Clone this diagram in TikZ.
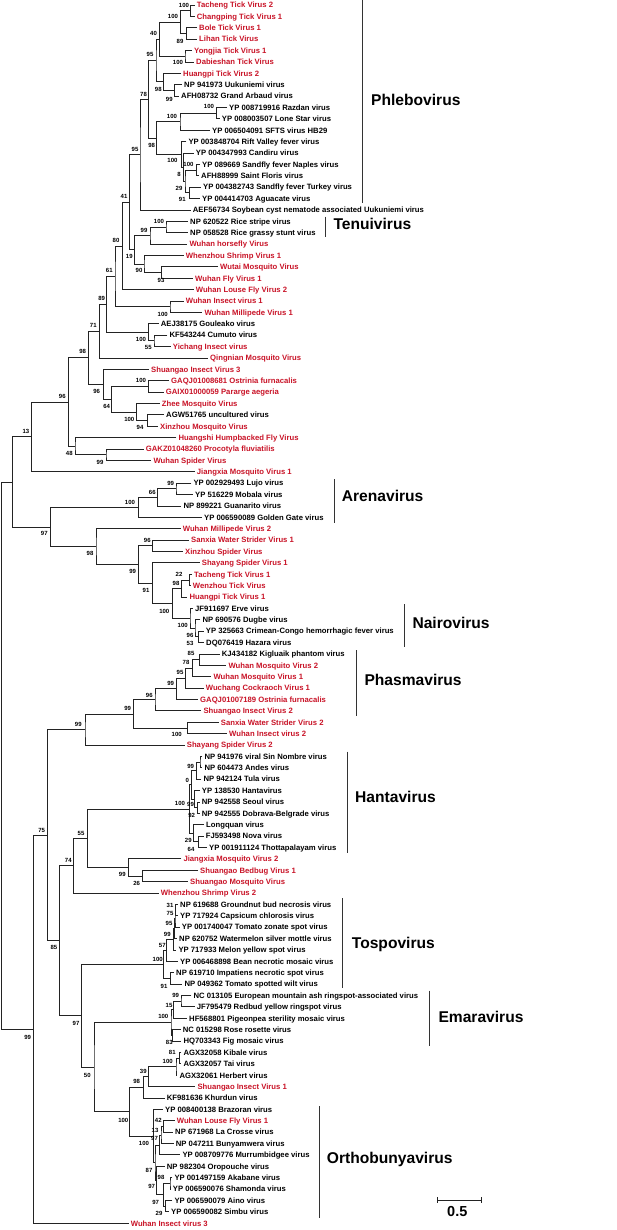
\documentclass[tikz,border=0pt]{standalone}
\usepackage{fontspec}
\setmainfont{Liberation Sans}
\usetikzlibrary{calc}
\definecolor{vred}{RGB}{200,18,38}
\definecolor{brc}{RGB}{35,35,35}
\newcounter{bsc}
\newcommand\LF[4]{%
  \coordinate (l#1) at ({#2-2},{5+(#1-1)*11.385});
  \node[lf,#3] (t#1) at ({#2},{5+(#1-1)*11.385+2.8}) {#4};}
\newcommand\IN[4]{%
  \path let \p1=(#3), \p2=(#4) in coordinate (#1) at ({#2pt},{(\y1+\y2)/2});
  \draw[br] (#3) -| (#1) |- (#4);}
\newcommand\BS[3]{\stepcounter{bsc}\node[bs] (bs\thebsc) at (#1,#2) {#3};}
\newcommand\CL[7]{%
  \coordinate (#1top) at (#2,#3);
  \coordinate (#1bot) at (#2,#4);
  \draw[cbar] (#1top) -- (#1bot);
  \node[cl] (#1) at (#5,{#6+5.6}) {#7};}
\begin{document}
\begin{tikzpicture}[x=1pt,y=-1pt,
  lf/.style={anchor=base west,inner sep=0pt,font=\fontsize{7.7}{9}\selectfont\bfseries},
  rd/.style={text=vred},
  bk/.style={text=black},
  bs/.style={inner sep=0pt,font=\fontsize{6}{7}\selectfont\bfseries},
  br/.style={line width=0.8pt,draw=brc},
  cbar/.style={line width=0.8pt,draw=black!80},
  cl/.style={anchor=base west,inner sep=0pt,font=\fontsize{15.6}{18}\selectfont\bfseries}]
\useasboundingbox (0,0) rectangle (617,1230);
% leaves
\LF{1}{196.7}{rd}{Tacheng Tick Virus 2}
\LF{2}{196.7}{rd}{Changping Tick Virus 1}
\LF{3}{199}{rd}{Bole Tick Virus 1}
\LF{4}{199}{rd}{Lihan Tick Virus}
\LF{5}{194}{rd}{Yongjia Tick Virus 1}
\LF{6}{196}{rd}{Dabieshan Tick Virus}
\LF{7}{183}{rd}{Huangpi Tick Virus 2}
\LF{8}{184}{bk}{NP 941973 Uukuniemi virus}
\LF{9}{181}{bk}{AFH08732 Grand Arbaud virus}
\LF{10}{229}{bk}{YP 008719916 Razdan virus}
\LF{11}{221.7}{bk}{YP 008003507 Lone Star virus}
\LF{12}{212}{bk}{YP 006504091 SFTS virus HB29}
\LF{13}{188.3}{bk}{YP 003848704 Rift Valley fever virus}
\LF{14}{195.7}{bk}{YP 004347993 Candiru virus}
\LF{15}{202}{bk}{YP 089669 Sandfly fever Naples virus}
\LF{16}{201}{bk}{AFH88999 Saint Floris virus}
\LF{17}{203}{bk}{YP 004382743 Sandfly fever Turkey virus}
\LF{18}{202}{bk}{YP 004414703 Aguacate virus}
\LF{19}{192.7}{bk}{AEF56734 Soybean cyst nematode associated Uukuniemi virus}
\LF{20}{190}{bk}{NP 620522 Rice stripe virus}
\LF{21}{190}{bk}{NP 058528 Rice grassy stunt virus}
\LF{22}{189.3}{rd}{Wuhan horsefly Virus}
\LF{23}{185.7}{rd}{Whenzhou Shrimp Virus 1}
\LF{24}{220}{rd}{Wutai Mosquito Virus}
\LF{25}{195}{rd}{Wuhan Fly Virus 1}
\LF{26}{195.7}{rd}{Wuhan Louse Fly Virus 2}
\LF{27}{185.7}{rd}{Wuhan Insect virus 1}
\LF{28}{204.3}{rd}{Wuhan Millipede Virus 1}
\LF{29}{160.7}{bk}{AEJ38175 Gouleako virus}
\LF{30}{169.3}{bk}{KF543244 Cumuto virus}
\LF{31}{172.7}{rd}{Yichang Insect virus}
\LF{32}{210}{rd}{Qingnian Mosquito Virus}
\LF{33}{151}{rd}{Shuangao Insect Virus 3}
\LF{34}{171}{rd}{GAQJ01008681 Ostrinia furnacalis}
\LF{35}{165.7}{rd}{GAIX01000059 Pararge aegeria}
\LF{36}{161.7}{rd}{Zhee Mosquito Virus}
\LF{37}{166}{bk}{AGW51765 uncultured virus}
\LF{38}{160}{rd}{Xinzhou Mosquito Virus}
\LF{39}{178.3}{rd}{Huangshi Humpbacked Fly Virus}
\LF{40}{145.7}{rd}{GAKZ01048260 Procotyla fluviatilis}
\LF{41}{153.3}{rd}{Wuhan Spider Virus}
\LF{42}{196.7}{rd}{Jiangxia Mosquito Virus 1}
\LF{43}{193.3}{bk}{YP 002929493 Lujo virus}
\LF{44}{195}{bk}{YP 516229 Mobala virus}
\LF{45}{183.3}{bk}{NP 899221 Guanarito virus}
\LF{46}{204}{bk}{YP 006590089 Golden Gate virus}
\LF{47}{182.7}{rd}{Wuhan Millipede Virus 2}
\LF{48}{191}{rd}{Sanxia Water Strider Virus 1}
\LF{49}{185}{rd}{Xinzhou Spider Virus}
\LF{50}{201.7}{rd}{Shayang Spider Virus 1}
\LF{51}{194}{rd}{Tacheng Tick Virus 1}
\LF{52}{192.7}{rd}{Wenzhou Tick Virus}
\LF{53}{189.3}{rd}{Huangpi Tick Virus 1}
\LF{54}{195}{bk}{JF911697 Erve virus}
\LF{55}{202.3}{bk}{NP 690576 Dugbe virus}
\LF{56}{205.7}{bk}{YP 325663 Crimean-Congo hemorrhagic fever virus}
\LF{57}{206}{bk}{DQ076419 Hazara virus}
\LF{58}{221.7}{bk}{KJ434182 Kigluaik phantom virus}
\LF{59}{228.3}{rd}{Wuhan Mosquito Virus 2}
\LF{60}{213.3}{rd}{Wuhan Mosquito Virus 1}
\LF{61}{205.7}{rd}{Wuchang Cockraoch Virus 1}
\LF{62}{200}{rd}{GAQJ01007189 Ostrinia furnacalis}
\LF{63}{203.3}{rd}{Shuangao Insect Virus 2}
\LF{64}{220.7}{rd}{Sanxia Water Strider Virus 2}
\LF{65}{229}{rd}{Wuhan Insect virus 2}
\LF{66}{186.7}{rd}{Shayang Spider Virus 2}
\LF{67}{204.3}{bk}{NP 941976 viral Sin Nombre virus}
\LF{68}{204.3}{bk}{NP 604473 Andes virus}
\LF{69}{203.3}{bk}{NP 942124 Tula virus}
\LF{70}{201.7}{bk}{YP 138530 Hantavirus}
\LF{71}{201.7}{bk}{NP 942558 Seoul virus}
\LF{72}{201.7}{bk}{NP 942555 Dobrava-Belgrade virus}
\LF{73}{206}{bk}{Longquan virus}
\LF{74}{205.7}{bk}{FJ593498 Nova virus}
\LF{75}{209}{bk}{YP 001911124 Thottapalayam virus}
\LF{76}{183.3}{rd}{Jiangxia Mosquito Virus 2}
\LF{77}{200}{rd}{Shuangao Bedbug Virus 1}
\LF{78}{190}{rd}{Shuangao Mosquito Virus}
\LF{79}{160.7}{rd}{Whenzhou Shrimp Virus 2}
\LF{80}{180}{bk}{NP 619688 Groundnut bud necrosis virus}
\LF{81}{180}{bk}{YP 717924 Capsicum chlorosis virus}
\LF{82}{181.7}{bk}{YP 001740047 Tomato zonate spot virus}
\LF{83}{179}{bk}{NP 620752 Watermelon silver mottle virus}
\LF{84}{178.3}{bk}{YP 717933 Melon yellow spot virus}
\LF{85}{180}{bk}{YP 006468898 Bean necrotic mosaic virus}
\LF{86}{176}{bk}{NP 619710 Impatiens necrotic spot virus}
\LF{87}{184.3}{bk}{NP 049362 Tomato spotted wilt virus}
\LF{88}{193.3}{bk}{NC 013105 European mountain ash ringspot-associated virus}
\LF{89}{196.7}{bk}{JF795479 Redbud yellow ringspot virus}
\LF{90}{189}{bk}{HF568801 Pigeonpea sterility mosaic virus}
\LF{91}{182.7}{bk}{NC 015298 Rose rosette virus}
\LF{92}{183.3}{bk}{HQ703343 Fig mosaic virus}
\LF{93}{183.3}{bk}{AGX32058 Kibale virus}
\LF{94}{183.3}{bk}{AGX32057 Tai virus}
\LF{95}{179.3}{bk}{AGX32061 Herbert virus}
\LF{96}{197.3}{rd}{Shuangao Insect Virus 1}
\LF{97}{166.7}{bk}{KF981636 Khurdun virus}
\LF{98}{165}{bk}{YP 008400138 Brazoran virus}
\LF{99}{176.7}{rd}{Wuhan Louse Fly Virus 1}
\LF{100}{175}{bk}{NP 671968 La Crosse virus}
\LF{101}{175.7}{bk}{NP 047211 Bunyamwera virus}
\LF{102}{182.3}{bk}{YP 008709776 Murrumbidgee virus}
\LF{103}{166.7}{bk}{NP 982304 Oropouche virus}
\LF{104}{174.3}{bk}{YP 001497159 Akabane virus}
\LF{105}{172.7}{bk}{YP 006590076 Shamonda virus}
\LF{106}{174.3}{bk}{YP 006590079 Aino virus}
\LF{107}{171}{bk}{YP 006590082 Simbu virus}
\LF{108}{130.7}{rd}{Wuhan Insect virus 3}
% internal nodes
\IN{A}{190.7}{l1}{l2}
\IN{B}{186.7}{l3}{l4}
\IN{C}{180.7}{A}{B}
\IN{D}{185}{l5}{l6}
\IN{E}{159.3}{C}{D}
\IN{F}{174.3}{l8}{l9}
\IN{G}{163.3}{l7}{F}
\IN{H}{156}{E}{G}
\IN{J}{216.7}{l10}{l11}
\IN{K}{180}{J}{l12}
\IN{L}{196.7}{l15}{l16}
\IN{M}{189.3}{l17}{l18}
\IN{N}{185}{L}{M}
\IN{O}{183.3}{l14}{N}
\IN{P}{181.7}{l13}{O}
\IN{Q}{156.7}{K}{P}
\IN{R}{148.3}{H}{Q}
\IN{T}{140}{R}{l19}
\IN{U}{166}{l20}{l21}
\IN{V}{150}{U}{l22}
\IN{W}{161.7}{l24}{l25}
\IN{X}{144}{l23}{W}
\IN{Y}{134.3}{V}{X}
\IN{Z}{129.3}{T}{Y}
\IN{AA}{122.7}{Z}{l26}
\IN{I27}{170}{l27}{l28}
\IN{AB}{115}{AA}{I27}
\IN{AC}{154}{l30}{l31}
\IN{AD}{148.3}{l29}{AC}
\IN{AE}{106.7}{AB}{AD}
\IN{AF}{99.3}{AE}{l32}
\IN{AG}{148.3}{l34}{l35}
\IN{AH}{147.7}{l37}{l38}
\IN{AI}{136.7}{l36}{AH}
\IN{AJ}{111.7}{AG}{AI}
\IN{AK}{103.3}{l33}{AJ}
\IN{AL}{88.3}{AF}{AK}
\IN{AM}{106}{l40}{l41}
\IN{AN}{75}{l39}{AM}
\IN{AO}{68.3}{AL}{AN}
\IN{AP}{31.7}{AO}{l42}
\IN{AQ}{176}{l43}{l44}
\IN{AR}{157.7}{AQ}{l45}
\IN{AS}{138.3}{AR}{l46}
\IN{AT}{152.7}{l48}{l49}
\IN{AU}{189.3}{l51}{l52}
\IN{AV}{181.7}{AU}{l53}
\IN{AW}{198.3}{l56}{l57}
\IN{AX}{195}{l55}{AW}
\IN{AY}{190}{l54}{AX}
\IN{AZ}{172.7}{AV}{AY}
\IN{BA}{152.3}{l50}{AZ}
\IN{BB}{138.3}{AT}{BA}
\IN{BC}{96}{l47}{BB}
\IN{BD}{50.7}{AS}{BC}
\IN{BE}{12.7}{AP}{BD}
\IN{PA}{199.3}{l58}{l59}
\IN{PB}{192.7}{PA}{l60}
\IN{PC}{185.7}{PB}{l61}
\IN{PD}{176.7}{PC}{l62}
\IN{PE}{155}{PD}{l63}
\IN{PF}{187.3}{l64}{l65}
\IN{PG}{133.3}{PE}{PF}
\IN{BH}{85}{PG}{l66}
\IN{HAa}{200}{l67}{l68}
\IN{HAb}{196.7}{HAa}{l69}
\IN{HAc}{197.7}{l71}{l72}
\IN{HAd}{194.3}{l70}{HAc}
\IN{HA}{191.7}{HAb}{HAd}
\IN{HBa}{198.3}{l74}{l75}
\IN{HB}{193.3}{l73}{HBa}
\IN{HR}{189.3}{HA}{HB}
\IN{SB}{142.7}{l77}{l78}
\IN{SA}{128.3}{l76}{SB}
\IN{BJ}{87.3}{HR}{SA}
\IN{BK}{73.3}{BJ}{l79}
\IN{TA}{175.7}{l80}{l81}
\IN{TB}{175}{TA}{l82}
\IN{TC}{174.3}{TB}{l83}
\IN{TD}{173.3}{TC}{l84}
\IN{TE}{166.7}{TD}{l85}
\IN{TF}{170.7}{l86}{l87}
\IN{BN}{163.3}{TE}{TF}
\IN{EA}{181}{l88}{l89}
\IN{EB}{173.3}{EA}{l90}
\IN{EC}{172.7}{l91}{l92}
\IN{BO}{171}{EB}{EC}
\IN{KA}{179.3}{l93}{l94}
\IN{KB}{176}{KA}{l95}
\IN{KC}{148.3}{KB}{l96}
\IN{KD}{143.3}{KC}{l97}
\IN{OA}{163.3}{l99}{l100}
\IN{OB}{161}{OA}{l101}
\IN{OC}{159.3}{OB}{l102}
\IN{OD}{170}{l104}{l105}
\IN{OE}{165.7}{l106}{l107}
\IN{OF}{163.3}{OD}{OE}
\IN{OG}{156.7}{l103}{OF}
\IN{BR}{155}{OC}{OG}
\IN{BQ}{153.3}{l98}{BR}
\IN{BP}{129.3}{KD}{BQ}
\IN{BM}{94}{BO}{BP}
\IN{BL}{81.7}{BN}{BM}
\IN{BI}{59.3}{BK}{BL}
\IN{BG}{47.7}{BH}{BI}
\IN{BF}{33.3}{BG}{l108}
\IN{ROOT}{1.5}{BE}{BF}
% bootstrap values
\BS{184}{5}{100}
\BS{173}{16}{100}
\BS{180}{41}{89}
\BS{153.5}{33}{40}
\BS{178}{62.3}{100}
\BS{150}{54.3}{95}
\BS{158.3}{89.3}{98}
\BS{169.3}{99}{99}
\BS{143.5}{94.3}{78}
\BS{209}{106.7}{100}
\BS{172}{116}{100}
\BS{151.7}{145}{98}
\BS{135}{149.3}{95}
\BS{172.5}{160.7}{100}
\BS{188.5}{164}{100}
\BS{179}{174}{8}
\BS{179}{188.3}{29}
\BS{182.3}{199}{91}
\BS{124}{196.7}{41}
\BS{159}{221.7}{100}
\BS{144}{230}{99}
\BS{116}{240.7}{80}
\BS{129.3}{256.7}{19}
\BS{139}{270.7}{90}
\BS{161}{280}{93}
\BS{109.3}{270.7}{61}
\BS{101.7}{298.3}{89}
\BS{162.7}{314}{100}
\BS{93.3}{325}{71}
\BS{82.7}{351.7}{98}
\BS{141}{339.3}{100}
\BS{148.3}{347.3}{55}
\BS{141}{380}{100}
\BS{96.7}{391}{96}
\BS{62.3}{396.7}{96}
\BS{106.7}{406.7}{64}
\BS{129.3}{419}{100}
\BS{140}{427.7}{94}
\BS{26}{431.7}{13}
\BS{69.3}{453.3}{48}
\BS{100}{462.3}{99}
\BS{170.7}{483.3}{99}
\BS{152.3}{492.3}{66}
\BS{130}{502.7}{100}
\BS{44.3}{533.3}{97}
\BS{147.3}{540.7}{96}
\BS{90}{553.3}{98}
\BS{132.7}{571.7}{99}
\BS{179}{574}{22}
\BS{176}{583.3}{98}
\BS{146}{590}{91}
\BS{164.3}{611}{100}
\BS{182.7}{625}{100}
\BS{190}{635}{96}
\BS{190}{643.3}{53}
\BS{191}{653.3}{85}
\BS{186}{662.7}{78}
\BS{180}{672.7}{95}
\BS{170.7}{683.3}{99}
\BS{149.3}{695}{96}
\BS{127.7}{708.3}{99}
\BS{78.3}{724}{99}
\BS{176.7}{734.3}{100}
\BS{190.7}{766}{99}
\BS{187.3}{780}{0}
\BS{180}{803.3}{100}
\BS{190.5}{804}{99}
\BS{191.7}{815}{92}
\BS{41.7}{830}{75}
\BS{81}{833.3}{55}
\BS{188.3}{840.7}{29}
\BS{191}{849.3}{64}
\BS{68.3}{860.7}{74}
\BS{122.3}{874.3}{99}
\BS{136.7}{883.3}{26}
\BS{170}{905}{31}
\BS{170}{913.3}{75}
\BS{169}{923.3}{95}
\BS{167.3}{934.3}{99}
\BS{54}{947.7}{85}
\BS{162.3}{945}{57}
\BS{157.7}{959.3}{100}
\BS{164}{986}{91}
\BS{175.7}{995}{99}
\BS{169}{1005}{15}
\BS{76}{1023.3}{97}
\BS{163.3}{1016.7}{100}
\BS{27.7}{1037.3}{99}
\BS{169.3}{1042.3}{83}
\BS{172.3}{1052.7}{81}
\BS{167.7}{1061.7}{100}
\BS{143.3}{1071}{39}
\BS{87.3}{1075}{50}
\BS{136.7}{1081.7}{98}
\BS{158.3}{1120.7}{42}
\BS{123.3}{1120}{100}
\BS{155}{1130}{13}
\BS{154.5}{1138.5}{97}
\BS{144}{1143.3}{100}
\BS{149}{1170}{87}
\BS{161}{1177.7}{98}
\BS{151.7}{1186.7}{97}
\BS{155.7}{1202.3}{97}
\BS{159}{1213.3}{29}
% clade bars
\CL{phlebo}{362.7}{0}{203}{371}{100}{Phlebovirus}
\CL{tenui}{325}{216.7}{237.3}{333.3}{224}{Tenuivirus}
\CL{arena}{334}{479}{522.7}{341.7}{496}{Arenavirus}
\CL{nairo}{404.3}{604}{647.3}{412.3}{622.7}{Nairovirus}
\CL{phasma}{356}{650}{716}{364.3}{680}{Phasmavirus}
\CL{hanta}{347.7}{751.7}{852.7}{355}{797}{Hantavirus}
\CL{tospo}{342.7}{898}{988}{351.7}{942.7}{Tospovirus}
\CL{emara}{429.3}{990.7}{1046}{438.3}{1016.7}{Emaravirus}
\CL{ortho}{319.3}{1106}{1217.7}{326.7}{1158.3}{Orthobunyavirus}
% scale bar
\coordinate (sb1) at (437.7,1200);
\coordinate (sb2) at (481,1200);
\draw[br] (sb1) -- (sb2);
\draw[br] ([yshift=3pt]sb1) -- ([yshift=-3pt]sb1);
\draw[br] ([yshift=3pt]sb2) -- ([yshift=-3pt]sb2);
\node[font=\fontsize{14.5}{17}\selectfont\bfseries,inner sep=0pt] (sblabel) at (457.3,1211.7) {0.5};
\end{tikzpicture}
\end{document}
